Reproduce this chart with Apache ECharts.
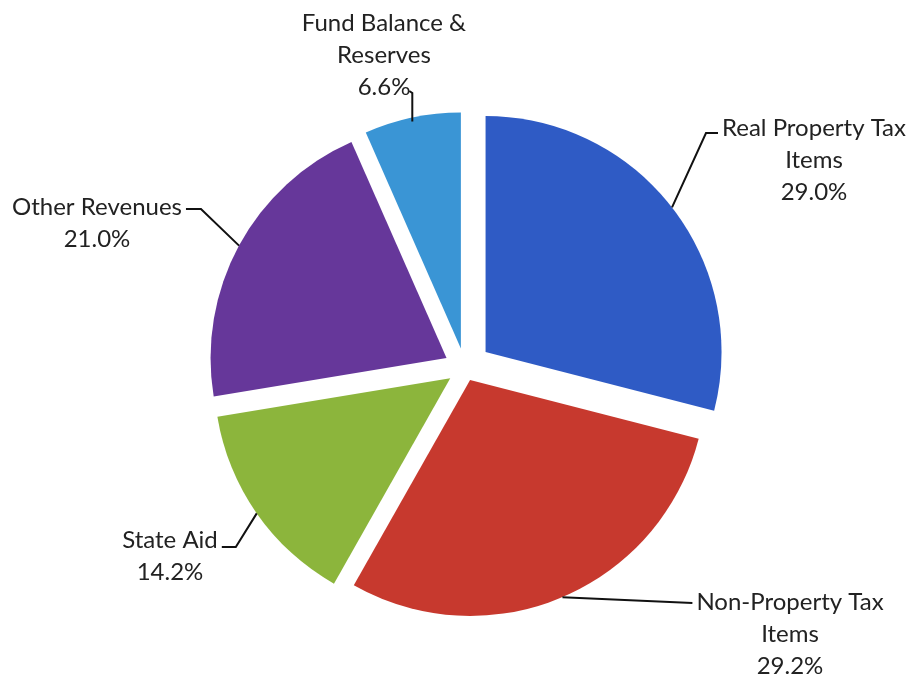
<!DOCTYPE html>
<html>
<head>
<meta charset="utf-8">
<script src="https://cdn.jsdelivr.net/npm/echarts@6/dist/echarts.min.js"></script>
<style>html,body{margin:0;padding:0;background:#fff}#c{width:915px;height:679px}</style>
</head>
<body>
<div id="c"></div>
<script>
// ---- data ----
const categories = ["Real Property Tax Items", "Non-Property Tax Items", "State Aid", "Other Revenues", "Fund Balance & Reserves"];
const labelLines = [["Real Property Tax", "Items"], ["Non-Property Tax", "Items"], ["State Aid"], ["Other Revenues"], ["Fund Balance &", "Reserves"]];
const values = [29.0, 29.2, 14.2, 21.0, 6.6];

// ---- styles / layout ----
const colors = ["#2f5bc5", "#c7392e", "#8cb53c", "#66379a", "#3a95d5"];
const explode = [26, 13, 18, 21, 20];           // per-slice explosion (px)
const CX = 465, CY = 368, R = 236;
const FONT = 'Lato', FS = 24, LH = 32;
// label block: centre x, first-line centre y, side where the leader joins
const labelCfg = [
  {x: 814, y: 128, side: 'left',  dy: 5, elbow: -12},
  {x: 790, y: 602, side: 'left',  dy: 1, elbow: 0},
  {x: 170, y: 540, side: 'right', dy: 7, elbow: 14},
  {x: 97,  y: 207, side: 'right', dy: 2, elbow: 15},
  {x: 384, y: 23,  side: 'bottom', dy: 0, elbow: 0}
];

const ctx = document.createElement('canvas').getContext('2d');
ctx.font = FS + 'px ' + FONT;
const tw = s => ctx.measureText(s).width;

const total = values.reduce((a, b) => a + b, 0);
let acc = 0;
const mids = values.map(v => { const m = (acc + v / 2) / total * 2 * Math.PI; acc += v; return m; });

const series = values.map((_, k) => ({
  type: 'pie',
  center: [CX, CY],
  radius: R,
  startAngle: 90,
  clockwise: true,
  selectedMode: 'multiple',
  selectedOffset: explode[k],
  silent: true,
  label: {show: false},
  labelLine: {show: false},
  emphasis: {disabled: true},
  z: 2,
  data: categories.map((c, i) => ({
    name: c,
    value: values[i],
    selected: i === k,
    itemStyle: {color: i === k ? colors[i] : 'rgba(0,0,0,0)', borderWidth: 0}
  }))
}));

const graphics = [];
labelCfg.forEach((cfg, i) => {
  const lines = labelLines[i].concat([values[i].toFixed(1) + '%']);
  graphics.push({
    type: 'text', z: 10,
    style: {
      text: lines.join('\n'),
      x: cfg.x, y: cfg.y - LH / 2,
      align: 'center', verticalAlign: 'top',
      font: FS + 'px ' + FONT, lineHeight: LH,
      fill: '#222222'
    }
  });
  const m = mids[i];
  const d = explode[i] + R;
  const ax = CX + d * Math.sin(m), ay = CY - d * Math.cos(m);
  let pts;
  if (cfg.side === 'left') {
    const ex = cfg.x - tw(lines[0]) / 2 - 4, ey = cfg.y + cfg.dy;
    pts = [[ax, ay], [ex + cfg.elbow, ey], [ex, ey]];
  } else if (cfg.side === 'right') {
    const ex = cfg.x + tw(lines[0]) / 2 + 4, ey = cfg.y + cfg.dy;
    pts = [[ax, ay], [ex + cfg.elbow, ey], [ex, ey]];
  } else {
    const ey = cfg.y + LH * (lines.length - 1) + 6;
    pts = [[ax, ay + 4], [ax, ey], [ax - 3, ey - 2]];
  }
  graphics.push({
    type: 'polyline', z: 9,
    shape: {points: pts},
    style: {stroke: '#111111', lineWidth: 2, fill: null}
  });
});

const chart = echarts.init(document.getElementById('c'), null, {renderer: 'canvas'});
chart.setOption({
  animation: false,
  backgroundColor: '#ffffff',
  series: series,
  graphic: graphics
});
</script>
</body>
</html>
